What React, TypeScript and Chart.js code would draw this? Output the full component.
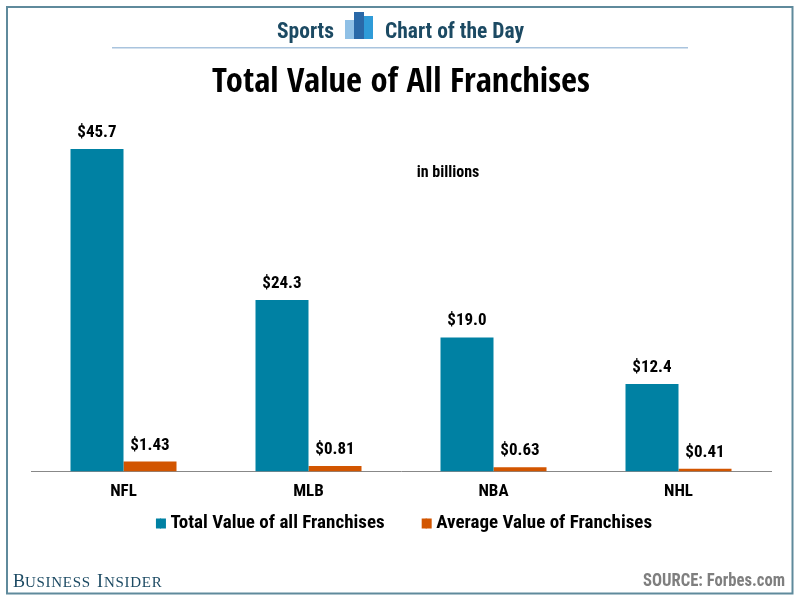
import React, { useEffect, useRef } from "react";
import { Chart, registerables } from "chart.js";

Chart.register(...registerables);

const leagues = ["NFL", "MLB", "NBA", "NHL"];
const totalValue = [45.7, 24.3, 19.0, 12.4];
const averageValue = [1.43, 0.81, 0.63, 0.41];
const totalLabels = ["$45.7", "$24.3", "$19.0", "$12.4"];
const averageLabels = ["$1.43", "$0.81", "$0.63", "$0.41"];
const seriesNames = ["Total Value of all Franchises", "Average Value of Franchises"];

const NARROW = '"Roboto Condensed", sans-serif';
const TITLE_FONT = '"Open Sans Condensed", "Roboto Condensed", sans-serif';
const SERIF = '"Liberation Serif", serif';
const TEAL = "#0081a3";
const ORANGE = "#d25500";
const LEGEND_GAP = "        ";

const decor = {
  id: "decor",
  afterLayout(chart: any) {
    chart.legend.left += 3;
    chart.legend.right += 3;
  },
  beforeDraw(chart: any) {
    const c = chart.ctx;
    c.save();
    c.fillStyle = "#ffffff";
    c.fillRect(0, 0, 800, 600);
    c.strokeStyle = "#5f8a9c";
    c.lineWidth = 2;
    c.strokeRect(7, 7, 785.5, 586.5);
    c.fillStyle = "#a9c4de";
    c.fillRect(112, 47, 576, 1.5);
    c.fillStyle = "#8fc0e6";
    c.fillRect(345, 20, 18, 19);
    c.fillStyle = "#2f9bd8";
    c.fillRect(364, 16, 9, 23);
    c.fillStyle = "#2a69a8";
    c.fillRect(354, 12, 10, 27);
    c.fillStyle = "#1c4a63";
    c.textBaseline = "alphabetic";
    c.font = `bold 21.5px ${NARROW}`;
    c.textAlign = "left";
    c.fillText("Sports", 277, 38);
    c.fillText("Chart of the Day", 385, 38);
    c.fillStyle = "#000000";
    c.font = `bold 16px ${NARROW}`;
    c.textAlign = "center";
    c.fillText("in billions", 448, 177);
    c.fillStyle = "#1c4a63";
    c.textAlign = "left";
    c.font = `18px ${SERIF}`;
    c.fillText("B", 13, 587);
    c.fillText("I", 97, 587);
    c.font = `15px ${SERIF}`;
    c.letterSpacing = "0.7px";
    c.fillText("USINESS", 25, 587);
    c.fillText("NSIDER", 104, 587);
    c.letterSpacing = "0px";
    c.fillStyle = "#7f7f7f";
    c.font = `bold 17.5px ${NARROW}`;
    c.textAlign = "right";
    c.fillText("SOURCE: Forbes.com", 785, 586, 142);
    c.restore();
  },
  afterDatasetsDraw(chart: any) {
    const c = chart.ctx;
    c.save();
    c.fillStyle = "#000000";
    c.font = `bold 17px ${NARROW}`;
    c.textAlign = "center";
    c.textBaseline = "alphabetic";
    [totalLabels, averageLabels].forEach((labels, d) => {
      chart.getDatasetMeta(d).data.forEach((bar: any, i: number) => {
        c.fillText(labels[i], bar.x, bar.y - 12);
      });
    });
    c.restore();
  },
  afterDraw(chart: any) {
    // the legend's text gap is tied to its font size, so its swatches are widened here
    const c = chart.ctx;
    c.save();
    chart.legend.legendItems.forEach((item: any, i: number) => {
      const h = chart.legend.legendHitBoxes[i];
      c.fillStyle = item.fillStyle;
      c.fillRect(h.left + 4, h.top + (h.height - 10) / 2, 6, 10);
    });
    c.restore();
  },
};

export default function App() {
  const ref = useRef<HTMLCanvasElement>(null);
  useEffect(() => {
    document.body.style.margin = "0";
    const chart = new Chart(ref.current!, {
      type: "bar",
      plugins: [decor],
      data: {
        labels: leagues,
        datasets: [
          { label: seriesNames[0], data: totalValue, backgroundColor: TEAL },
          { label: seriesNames[1], data: averageValue, backgroundColor: ORANGE },
        ],
      },
      options: {
        responsive: false,
        animation: false,
        layout: { padding: { left: 31, right: 29, top: 62, bottom: 57 } },
        datasets: { bar: { barPercentage: 1, categoryPercentage: 0.573 } },
        plugins: {
          tooltip: { enabled: false },
          title: {
            display: true,
            text: "Total Value of All Franchises",
            color: "#000000",
            font: { family: TITLE_FONT, size: 34.6, weight: "bold" },
            padding: { top: 0, bottom: 15 },
          },
          legend: {
            position: "bottom",
            labels: {
              boxWidth: 5,
              boxHeight: 10,
              padding: 2,
              color: "#000000",
              font: { family: NARROW, size: 19, weight: "bold" },
              generateLabels(c: any) {
                return Chart.defaults.plugins.legend.labels
                  .generateLabels(c)
                  .map((item: any, i: number) => (i === 0 ? { ...item, text: item.text + LEGEND_GAP } : item));
              },
            },
          },
        },
        scales: {
          x: {
            grid: { display: false, drawTicks: false },
            border: { color: "#888888", width: 1 },
            ticks: {
              color: "#000000",
              padding: 10,
              font: { family: NARROW, size: 17, weight: "bold" },
            },
          },
          y: { display: false, min: 0, max: 50 },
        },
      },
    });
    return () => chart.destroy();
  }, []);
  return <canvas ref={ref} width={800} height={600} style={{ display: "block" }} />;
}
